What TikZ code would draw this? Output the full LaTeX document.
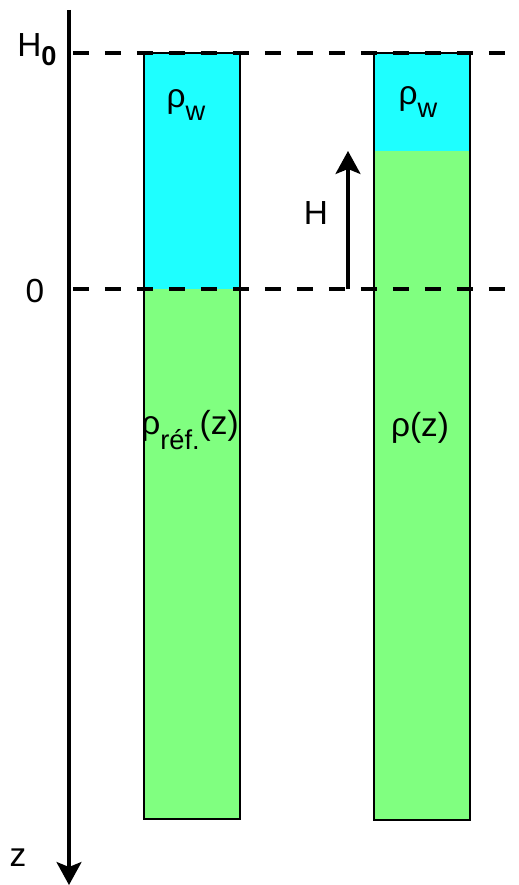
\documentclass[tikz,border=0pt]{standalone}
\usepackage{fontspec}
\setmainfont{Liberation Sans}
\usetikzlibrary{arrows.meta}
\definecolor{eau}{RGB}{30,255,255}
\definecolor{sol}{RGB}{128,255,128}
\newcommand{\bas}[2][7pt]{\raisebox{-#1}{\fontsize{15.5}{15.5}\selectfont #2}}

\tikzset{
  colonne/.style={line width=1.6pt},
  niveau/.style={line width=2pt, dash pattern=on 0.32cm off 0.32cm},
  fleche/.style={line width=1.8pt, -{Stealth[length=0.46cm, width=0.5cm, inset=0.1cm]}},
  etiquette/.style={font=\fontsize{19}{21}\selectfont, inner sep=0pt}
}

\begin{document}
\begin{tikzpicture}[x=0.02cm, y=-0.02cm]
    \useasboundingbox (0,0) rectangle (518,885);
    % colonne de reference
    \fill[eau] (144,53) rectangle (240,289);
    \fill[sol] (144,289) rectangle (240,819);
    \draw[colonne] (144,53) rectangle (240,819);
    % colonne actuelle
    \fill[eau] (374,53) rectangle (470,151);
    \fill[sol] (374,151) rectangle (470,820);
    \draw[colonne] (374,53) rectangle (470,820);
    % niveaux
    \coordinate (h0g) at (73,53);
    \coordinate (h0d) at (518,53);
    \coordinate (zg) at (73,289);
    \coordinate (zd) at (518,289);
    \draw[niveau] (h0g) -- (h0d);
    \draw[niveau] (zg) -- (zd);
    % axe z
    \coordinate (haut) at (69,10);
    \coordinate (bas) at (69,885);
    \draw[fleche] (haut) -- (bas);
    % hauteur H
    \coordinate (hpied) at (348,289);
    \coordinate (htete) at (348,151);
    \draw[fleche] (hpied) -- (htete);
    % textes
    \node[etiquette] (lh0) at (37,50) {H\bas[5pt]{\textbf{0}}};
    \node[etiquette] (lzero) at (35,291) {0};
    \node[etiquette] (lz) at (18,858) {z};
    \node[etiquette] (lh) at (316,213) {H};
    \node[etiquette] (rwg) at (186,105) {ρ\bas{w}};
    \node[etiquette] (rwd) at (418,102) {ρ\bas{w}};
    \node[etiquette] (rref) at (190,430) {ρ\bas[9pt]{réf.}(z)};
    \node[etiquette] (rz) at (420,428) {ρ(z)};
\end{tikzpicture}
\end{document}
